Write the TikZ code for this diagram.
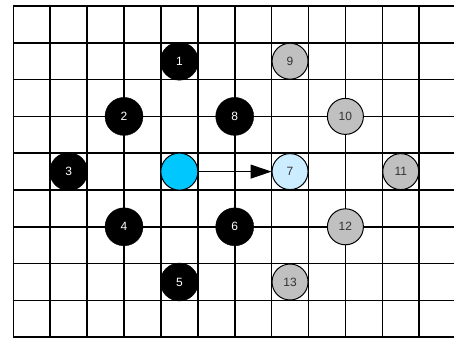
\documentclass[tikz,border=0pt]{standalone}
\usepackage{fontspec}
\setmainfont{Liberation Sans}
\usetikzlibrary{arrows.meta}
\definecolor{cyanfill}{RGB}{0,200,255}
\definecolor{lightfill}{RGB}{204,236,255}
\definecolor{grayfill}{RGB}{192,192,192}
\definecolor{txtgray}{RGB}{51,51,51}
\tikzset{
  gridline/.style={line width=1.6pt, black},
  nfont/.style={font=\fontsize{12}{13}\selectfont},
  blk/.style={circle, fill=black, draw=black, minimum size=38pt, inner sep=0pt, text=white, nfont},
  gry/.style={circle, fill=grayfill, draw=black, line width=1pt, minimum size=36pt, inner sep=0pt, text=txtgray, nfont},
  lbl/.style={circle, fill=lightfill, draw=black, line width=1pt, minimum size=36pt, inner sep=0pt, text=txtgray, nfont},
  cyn/.style={circle, fill=cyanfill, draw=black, line width=1pt, minimum size=37pt, inner sep=0pt},
  conn/.style={line width=1pt, -{Triangle[length=21pt,width=14pt]}}
}
\begin{document}
\begin{tikzpicture}[x=1pt,y=-1pt]
\useasboundingbox (0,0) rectangle (454,338);
\begin{scope}
\clip (0,0) rectangle (454,338);
\foreach \i in {0,...,12} {
  \draw[gridline] ({13.3+36.9*\i},6) -- ({13.3+36.9*\i},337.2);
}
\foreach \j in {0,...,9} {
  \draw[gridline] (13.3,{6+36.8*\j}) -- (460,{6+36.8*\j});
}
\end{scope}
\def\gx#1{13.3+36.9*#1}
\def\gy#1{6+36.8*#1}
\node[blk] (n1) at ({\gx{4.5}},{\gy{1.5}}) {1};
\node[blk] (n2) at ({\gx{3}},{\gy{3}}) {2};
\node[blk] (n3) at ({\gx{1.5}},{\gy{4.5}}) {3};
\node[blk] (n4) at ({\gx{3}},{\gy{6}}) {4};
\node[blk] (n5) at ({\gx{4.5}},{\gy{7.5}}) {5};
\node[blk] (n6) at ({\gx{6}},{\gy{6}}) {6};
\node[blk] (n8) at ({\gx{6}},{\gy{3}}) {8};
\node[lbl] (n7) at ({\gx{7.5}},{\gy{4.5}}) {7};
\node[gry] (n9) at ({\gx{7.5}},{\gy{1.5}}) {9};
\node[gry] (n10) at ({\gx{9}},{\gy{3}}) {10};
\node[gry] (n11) at ({\gx{10.5}},{\gy{4.5}}) {11};
\node[gry] (n12) at ({\gx{9}},{\gy{6}}) {12};
\node[gry] (n13) at ({\gx{7.5}},{\gy{7.5}}) {13};
\node[cyn] (c) at ({\gx{4.5}},{\gy{4.5}}) {};
\draw[conn] (c) -- (n7);
\end{tikzpicture}
\end{document}
